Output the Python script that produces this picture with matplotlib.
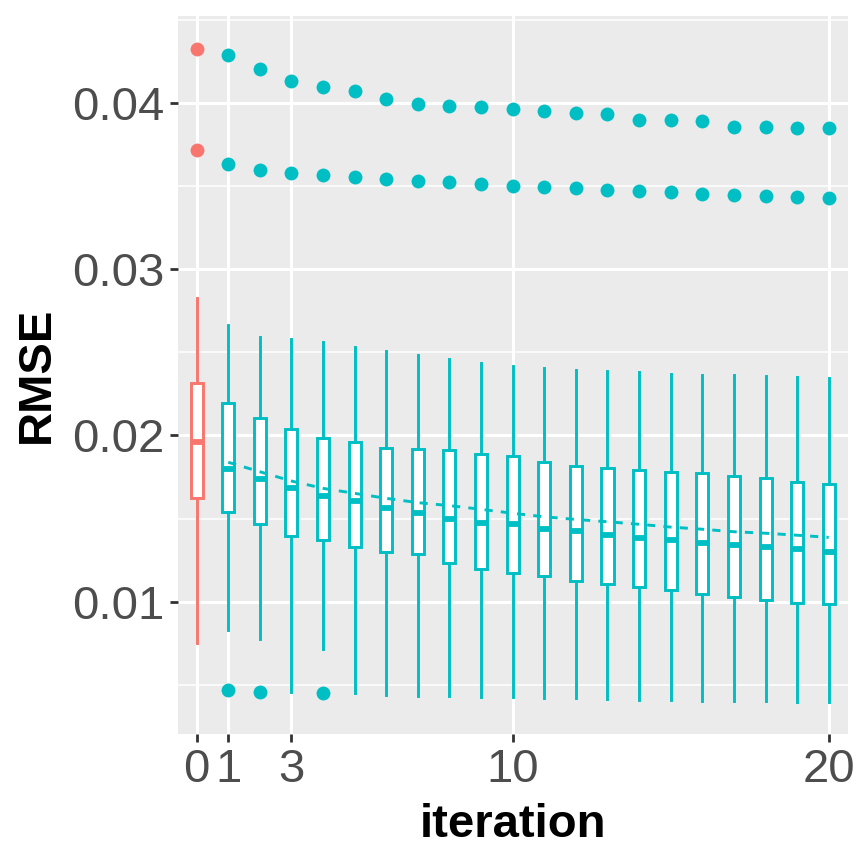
import numpy as np
import matplotlib
matplotlib.use("Agg")
import matplotlib.pyplot as plt

# RMSE boxplot per iteration
iteration = [0, 1, 2, 3, 4, 5, 6, 7, 8, 9, 10, 11, 12, 13, 14, 15, 16, 17, 18, 19, 20]
whis_lo = [0.00750, 0.00830, 0.00776, 0.00455, 0.00714, 0.00449, 0.00439, 0.00434, 0.00433, 0.00428, 0.00425,
           0.00422, 0.00419, 0.00415, 0.00409, 0.00409, 0.00404, 0.00403, 0.00401, 0.00398, 0.00395]
q1 = [0.01622, 0.01542, 0.01466, 0.01397, 0.01373, 0.01331, 0.01301, 0.01287, 0.01235, 0.01199, 0.01171,
      0.01155, 0.01126, 0.01105, 0.01087, 0.01070, 0.01046, 0.01026, 0.01008, 0.00994, 0.00984]
median = [0.01959, 0.01798, 0.01738, 0.01682, 0.01638, 0.01608, 0.01566, 0.01536, 0.01496, 0.01475, 0.01466,
          0.01439, 0.01427, 0.01403, 0.01385, 0.01369, 0.01355, 0.01341, 0.01327, 0.01315, 0.01301]
q3 = [0.02314, 0.02197, 0.02103, 0.02039, 0.01983, 0.01959, 0.01923, 0.01917, 0.01913, 0.01889, 0.01877,
      0.01839, 0.01818, 0.01806, 0.01794, 0.01782, 0.01773, 0.01758, 0.01742, 0.01722, 0.01708]
whis_hi = [0.02826, 0.02665, 0.02594, 0.02579, 0.02561, 0.02534, 0.02508, 0.02484, 0.02458, 0.02434, 0.02418,
           0.02404, 0.02394, 0.02388, 0.02380, 0.02372, 0.02366, 0.02362, 0.02358, 0.02354, 0.02348]
out_high = [0.04324, 0.04291, 0.04207, 0.04135, 0.04097, 0.04075, 0.04026, 0.03995, 0.03984, 0.03975, 0.03966,
            0.03952, 0.03942, 0.03933, 0.03900, 0.03897, 0.03891, 0.03856, 0.03854, 0.03852, 0.03848]
out_mid = [0.03718, 0.03632, 0.03597, 0.03579, 0.03566, 0.03554, 0.03541, 0.03531, 0.03523, 0.03513, 0.03503,
           0.03495, 0.03487, 0.03479, 0.03471, 0.03463, 0.03455, 0.03449, 0.03441, 0.03435, 0.03427]
out_low = [None, 0.00469, 0.00458, None, 0.00449] + [None] * 16

# dashed trend line, iterations 1..20
trend_iter = iteration[1:]
trend = [0.01839, 0.01782, 0.01726, 0.01682, 0.01652, 0.01622, 0.01596, 0.01578, 0.01556, 0.01532,
         0.01511, 0.01495, 0.01481, 0.01466, 0.01449, 0.01436, 0.01421, 0.01412, 0.01400, 0.01387]

x_ticks = [0, 1, 3, 10, 20]
y_ticks = [0.01, 0.02, 0.03, 0.04]
y_tick_labels = ["0.01", "0.02", "0.03", "0.04"]

RED = "#F8766D"
TEAL = "#00BFC4"

plt.rcParams["font.family"] = ["Liberation Sans", "DejaVu Sans"]

fig = plt.figure(figsize=(8.65, 8.65), dpi=100)
ax = fig.add_axes([178 / 865, 131 / 865, 670 / 865, 718 / 865])
ax.set_facecolor("#EBEBEB")
for s in ax.spines.values():
    s.set_visible(False)

stats = []
for i in range(len(iteration)):
    fl = [out_high[i], out_mid[i]]
    if out_low[i] is not None:
        fl.append(out_low[i])
    stats.append(dict(whislo=whis_lo[i], q1=q1[i], med=median[i], q3=q3[i],
                      whishi=whis_hi[i], fliers=fl))


def draw(sub, pos, col):
    ax.bxp(sub, positions=pos, widths=0.38, showcaps=False, patch_artist=True,
           manage_ticks=False,
           boxprops=dict(facecolor="white", edgecolor=col, linewidth=2.1),
           whiskerprops=dict(color=col, linewidth=2.1),
           medianprops=dict(color=col, linewidth=4.2, solid_capstyle="butt"),
           flierprops=dict(marker="o", markerfacecolor=col, markeredgecolor="none",
                           markersize=10),
           zorder=3)


draw(stats[:1], iteration[:1], RED)
draw(stats[1:], iteration[1:], TEAL)

ax.plot(trend_iter, trend, color=TEAL, linestyle=(0, (2.8, 2.8)), linewidth=2.1, zorder=4)

ax.set_xlim(-0.59, 20.61)
ax.set_ylim(0.00204, 0.04524)
ax.set_xticks(x_ticks)
ax.set_xticklabels([str(t) for t in x_ticks])
ax.set_yticks(y_ticks)
ax.set_yticklabels(y_tick_labels)
ax.set_yticks(np.arange(0.005, 0.046, 0.01), minor=True)

ax.grid(True, which="major", color="white", linewidth=2.2, zorder=0)
ax.grid(True, which="minor", axis="y", color="white", linewidth=1.1, zorder=0)
ax.set_axisbelow(True)

ax.tick_params(axis="both", which="major", length=6, width=2, color="#333333",
               labelsize=34, labelcolor="#4D4D4D", pad=4)
ax.tick_params(axis="both", which="minor", length=0)

ax.set_xlabel("iteration", fontsize=34, fontweight="bold", color="black")
ax.set_ylabel("RMSE", fontsize=34, fontweight="bold", color="black")
ax.xaxis.set_label_coords(0.5, -0.127)
ax.xaxis.label.set_va("center")
ax.yaxis.set_label_coords(-0.21, 0.5)
ax.yaxis.label.set_va("center")

fig.savefig("out.png", dpi=100)
